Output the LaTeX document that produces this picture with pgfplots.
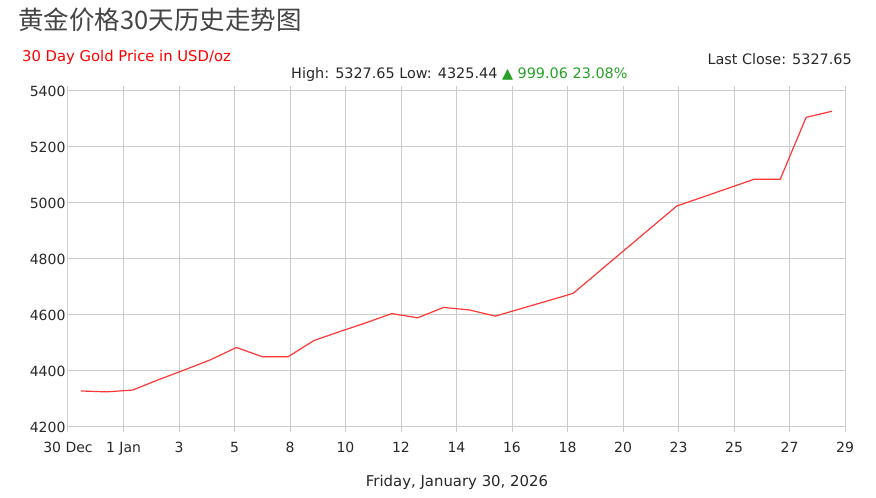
\documentclass[border=0pt]{standalone}
\usepackage{fontspec}
\usepackage{pgfplots}
\pgfplotsset{compat=1.18}
\setmainfont{DejaVu Sans}
\newfontfamily\cjk{Noto Sans CJK SC}
\definecolor{gridc}{RGB}{204,204,204}
\definecolor{linec}{RGB}{255,55,55}
\definecolor{greenc}{RGB}{40,160,40}
\definecolor{titlec}{RGB}{68,68,68}
\definecolor{labc}{RGB}{40,40,40}
\pgfplotstableread{
x y
0.5 4328.59
1.5 4325.44
2.5 4332
3.5 4369
4.5 4404
5.5 4440
6.5 4484
7.5 4451
8.5 4451
9.5 4509
10.5 4541
11.5 4572
12.5 4605
13.5 4590
14.5 4627
15.5 4618
16.5 4596
17.5 4623
18.5 4650
19.5 4677
20.5 4755
21.5 4833
22.5 4911
23.5 4989
24.5 5021
25.5 5053
26.5 5085
27.5 5085
28.5 5306
29.5 5327.65
}\gold
\begin{document}
\begin{tikzpicture}[x=1pt,y=1pt]
\path[use as bounding box] (0,0) rectangle (876,498);
\begin{axis}[at={(68pt,71pt)}, anchor=south west, scale only axis,
  width=777pt, height=336pt,
  xmin=0, xmax=30, ymin=4200, ymax=5400,
  xtick={0,2.142857,4.285714,6.428571,8.571429,10.714286,12.857143,15,17.142857,19.285714,21.428571,23.571429,25.714286,27.857143,30},
  xticklabels={30 Dec,1 Jan,3,5,8,10,12,14,16,18,20,23,25,27,29},
  ytick={4200,4400,4600,4800,5000,5200,5400},
  grid=major,
  major grid style={draw=gridc, line width=1pt},
  axis line style={draw=gridc, line width=1pt},
  x tick style={draw=gridc, line width=1pt},
  xtick align=outside, major tick length=5pt,
  y tick style={draw=none},
  tick label style={font=\fontsize{14}{14}\selectfont, text=labc},
  xticklabel style={yshift=-7pt},
  yticklabel style={xshift=1pt},
  /pgf/number format/assume math mode=true,
  /pgf/number format/1000 sep={},
  clip=false,
]
\addplot[draw=linec, line width=1.2pt, mark=none] table[x=x,y=y] {\gold};
\end{axis}
\node[anchor=base west, text=titlec, inner sep=0pt] at (18,468.7) {\cjk\fontsize{25.5}{25.5}\selectfont 黄金价格30天历史走势图};
\node[anchor=base west, text=red, inner sep=0pt] at (22,436.3) {\fontsize{14.8}{14.8}\selectfont 30 Day Gold Price in USD/oz};
\node[anchor=base east, text=labc, inner sep=0pt] at (852,433) {\fontsize{14.4}{14.4}\selectfont Last Close: 5327.65};
\node[anchor=base west, text=labc, inner sep=0pt] at (291,419) {\fontsize{14.4}{14.4}\selectfont High: 5327.65 Low: 4325.44 \textcolor{greenc}{▲ 999.06 23.08\%}};
\node[anchor=base, text=labc, inner sep=0pt] at (457,11) {\fontsize{14.9}{14.9}\selectfont Friday, January 30, 2026};
\end{tikzpicture}
\end{document}
